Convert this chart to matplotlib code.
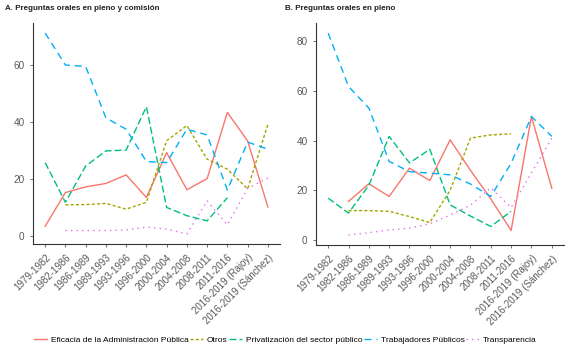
import numpy as np
import matplotlib
matplotlib.use('Agg')
import matplotlib.pyplot as plt

plt.rcParams.update({
    'font.family': ['Liberation Sans', 'DejaVu Sans'],
    'font.size': 6.5,
})

nan = np.nan

# Periods (legislaturas)
periodos = ['1979-1982', '1982-1986', '1986-1989', '1989-1993', '1993-1996',
            '1996-2000', '2000-2004', '2004-2008', '2008-2011', '2011-2016',
            '2016-2019 (Rajoy)', '2016-2019 (Sánchez)']

# Panel A: preguntas orales en pleno y comisión (%)
eficacia_a = [3.5, 15.3, 17.3, 18.5, 21.5, 13.6, 29.3, 16.3, 20.2, 43.4, 33.4, 10.3]
otros_a = [nan, 11.0, 11.1, 11.5, 9.5, 11.9, 33.5, 38.8, 27.0, 23.5, 16.6, 39.2]
privat_a = [25.8, 11.9, 24.6, 29.9, 30.2, 45.4, 10.1, 7.2, 5.4, 13.5, nan, nan]
trab_a = [71.2, 60.0, 59.5, 41.5, 37.5, 26.2, 25.8, 37.5, 35.5, 16.2, 33.0, 30.5]
transp_a = [nan, 2.0, 2.0, 2.0, 2.2, 3.2, 2.5, 0.8, 12.4, 4.0, 16.8, 20.4]

# Panel B: preguntas orales en pleno (%)
eficacia_b = [nan, 15.5, 22.6, 17.5, 28.9, 23.9, 40.3, 28.0, 16.5, 3.8, 49.7, 20.8]
otros_b = [nan, 11.8, 11.8, 11.5, 9.4, 7.0, 20.0, 41.0, 42.3, 42.7, nan, nan]
privat_b = [16.8, 10.8, 22.0, 41.7, 31.0, 36.5, 14.1, 9.6, 5.4, 11.5, nan, nan]
trab_b = [83.3, 61.8, 53.1, 31.6, 27.5, 26.9, 26.2, 22.5, 17.5, 30.9, 49.7, 41.7]
transp_b = [nan, 2.0, 2.9, 4.0, 4.7, 6.5, 10.0, 14.0, 21.0, 13.0, 27.0, 41.0]

labels = ['Eficacia de la Administración Pública', 'Otros',
          'Privatización del sector público', 'Trabajadores Públicos', 'Transparencia']
colors = ['#F8766D', '#A3A500', '#00BF7D', '#00B0F6', '#E76BF3']
dashes = [None, (2.2, 1.6), (5, 2.2), (5, 3.5), (1, 3)]

GRAY = '#5A5A5A'


def draw_panel(ax, series, yticks):
    x = np.arange(len(periodos))
    for vals, color, dash, lab in zip(series, colors, dashes, labels):
        line, = ax.plot(x, vals, color=color, lw=1.0, label=lab)
        if dash is not None:
            line.set_dashes(dash)
    ax.set_xlim(-0.6, len(periodos) - 1 + 0.6)
    ax.margins(y=0.05)
    ax.set_xticks(x)
    ax.set_xticklabels(periodos, rotation=45, ha='right', va='top',
                       rotation_mode='anchor', color=GRAY, fontsize=7)
    ax.set_yticks(yticks)
    ax.tick_params(axis='y', colors=GRAY, labelsize=7.2, length=2.5, width=0.6)
    ax.tick_params(axis='x', colors=GRAY, length=2.5, width=0.6)
    for side in ['top', 'right']:
        ax.spines[side].set_visible(False)
    for side in ['left', 'bottom']:
        ax.spines[side].set_color('#333333')
        ax.spines[side].set_linewidth(0.8)


fig = plt.figure(figsize=(5.71, 3.57), dpi=100)

ax_a = fig.add_axes([0.0578, 0.3165, 0.4326, 0.619])
draw_panel(ax_a, [eficacia_a, otros_a, privat_a, trab_a, transp_a], [0, 20, 40, 60])

ax_b = fig.add_axes([0.5534, 0.3137, 0.4343, 0.6218])
draw_panel(ax_b, [eficacia_b, otros_b, privat_b, trab_b, transp_b], [0, 20, 40, 60, 80])

fig.text(5 / 571, 1 - 9 / 357, 'A. Preguntas orales en pleno y comisión',
         fontsize=5.8, fontweight='bold', va='center', ha='left', color='#222222')
fig.text(285 / 571, 1 - 9 / 357, 'B. Preguntas orales en pleno',
         fontsize=5.8, fontweight='bold', va='center', ha='left', color='#222222')

handles, lbls = ax_a.get_legend_handles_labels()
fig.legend(handles, lbls, loc='center', bbox_to_anchor=(0.5, 1 - 340 / 357),
           ncol=5, frameon=False, fontsize=6, handlelength=1.5,
           handletextpad=0.5, columnspacing=0.2)

fig.savefig('out.png', dpi=100)
